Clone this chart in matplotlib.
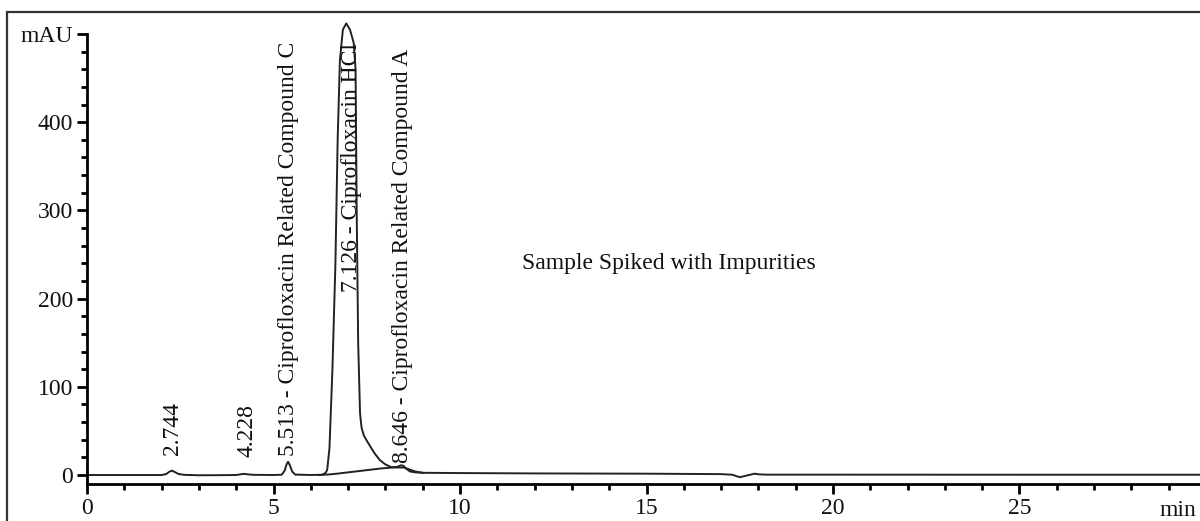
import matplotlib
matplotlib.use("Agg")
import matplotlib.pyplot as plt
from matplotlib.patches import Rectangle
from matplotlib.ticker import MultipleLocator, FixedLocator

# ---- data ----
time_main = [0.0, 1.0, 2.0, 2.12, 2.2, 2.27, 2.35, 2.45, 2.6, 3.0, 3.5, 4.0, 4.12, 4.2, 4.3, 4.45,
             5.0, 5.22, 5.3, 5.35, 5.39, 5.44, 5.5, 5.58, 6.0, 6.3, 6.4, 6.44, 6.5, 6.58, 6.66,
             6.72, 6.78, 6.86, 6.95, 7.05, 7.15, 7.2, 7.23, 7.27, 7.32, 7.36, 7.42,
             7.5, 7.6, 7.72, 7.85, 8.0, 8.15, 8.3, 8.42, 8.48, 8.56, 8.66, 8.8, 9.0, 10.0, 12.0,
             15.0, 17.0, 17.3, 17.5, 17.7, 17.9, 18.0, 18.2, 20.0, 25.0, 30.0]
signal_main = [0.0, 0.0, 0.0, 1.0, 3.5, 5.0, 3.5, 1.2, 0.2, -0.3, -0.2, 0.0, 0.8, 1.3, 0.8, 0.2,
               0.0, 0.3, 5.0, 12.0, 15.0, 11.0, 4.0, 0.5, 0.0, 0.3, 2.5, 6.0, 30.0, 120.0, 240.0,
               380.0, 470.0, 505.0, 512.0, 505.0, 490.0, 460.0, 300.0, 150.0, 70.0, 54.0, 45.0,
               39.0, 32.0, 24.0, 17.0, 12.0, 9.0, 9.0, 11.0, 10.5, 7.0, 4.0, 3.0,
               2.5, 2.2, 1.8, 1.5, 1.0, 0.3, -2.5, -0.5, 1.5, 0.8, 0.4, 0.4, 0.3, 0.3]
time_base = [6.2, 6.45, 6.7, 7.0, 7.3, 7.6, 7.9, 8.2, 8.5, 8.8, 9.0]
signal_base = [0.0, 0.5, 1.5, 3.0, 4.5, 6.0, 7.5, 8.5, 8.5, 4.0, 2.5]

peak_times = [2.28, 4.29, 5.39, 7.1, 8.47]
label_heights = [23, 20, 22, 207, 14]
peak_labels = ["2.744", "4.228", "5.513 - Ciprofloxacin Related Compound C",
               "7.126 - Ciprofloxacin HCl", "8.646 - Ciprofloxacin Related Compound A"]

x_major = [0, 5, 10, 15, 20, 25]
y_major = [0, 100, 200, 300, 400, 500]
y_major_labels = ["0", "100", "200", "300", "400", "mAU"]
title_text = "Sample Spiked with Impurities"
x_unit = "min"

# ---- figure ----
W, H = 1200, 521
FS = 17
fig = plt.figure(figsize=(12, 5.21), dpi=100)
plt.rcParams['font.family'] = ['Liberation Serif', 'DejaVu Serif']

fig.patches.append(Rectangle((7 / W, -0.05), 1.2, 1 - 12 / H + 0.05, transform=fig.transFigure,
                             fill=False, edgecolor='#333333', linewidth=1.6))

ax = fig.add_axes([87 / W, (H - 484) / H, 1 - 87 / W, (484 - 34) / H])
ax.set_xlim(0, (W - 87) / 37.3)
ax.set_ylim(-10.2, 500)

ax.plot(time_base, signal_base, color='#222222', lw=1.4, clip_on=False)
ax.plot(time_main, signal_main, color='#222222', lw=1.4, clip_on=False)

for s in ['top', 'right']:
    ax.spines[s].set_visible(False)
for s in ['left', 'bottom']:
    ax.spines[s].set_linewidth(2.0)
    ax.spines[s].set_color('black')

ax.xaxis.set_major_locator(FixedLocator(x_major))
ax.xaxis.set_minor_locator(MultipleLocator(1))
ax.yaxis.set_major_locator(FixedLocator(y_major))
ax.set_yticklabels(y_major_labels)
ax.yaxis.set_minor_locator(MultipleLocator(20))
ax.tick_params(which='major', length=7, width=2.0, labelsize=FS, pad=3, color='black',
               labelcolor='#111111')
ax.tick_params(which='minor', length=4, width=2.0, color='black')

for t, h, lab in zip(peak_times, label_heights, peak_labels):
    ax.text(t, h, lab, rotation=90, ha='center', va='bottom', fontsize=FS, color='#111111',
            clip_on=False)

ax.text(15.6, 240, title_text, ha='center', va='center', fontsize=FS, color='#111111')
ax.text(28.75, -28.5, x_unit, ha='left', va='top', fontsize=FS, color='#111111', clip_on=False)

fig.savefig('out.png', dpi=100)
